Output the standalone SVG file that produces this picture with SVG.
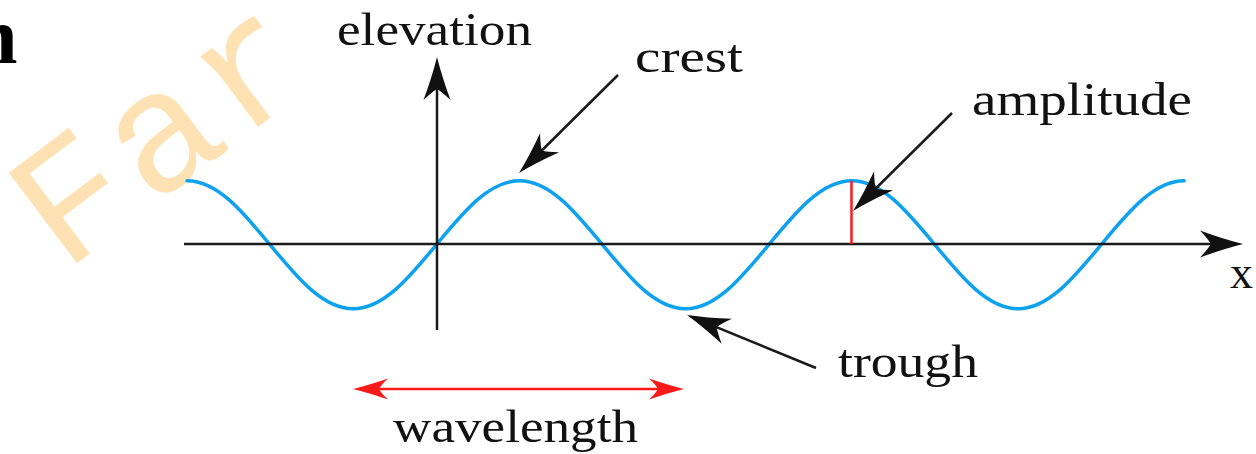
<svg xmlns="http://www.w3.org/2000/svg" width="1256" height="454" viewBox="0 0 1256 454">
<style>
  .lbl { font-family: "Liberation Serif", "Times New Roman", serif; font-size: 46px; fill: #111; }
  .axis { stroke: #1a1a1a; stroke-width: 2.5; fill: none; }
  .ptr { stroke: #1a1a1a; stroke-width: 2.5; fill: none; }
  .red { stroke: #ff1a1a; stroke-width: 2.5; fill: none; }
  .wave { stroke: #0ea2ee; stroke-width: 3.5; fill: none; stroke-linecap: round; }
  .wm { font-family: "Liberation Mono", "Courier New", monospace; font-size: 172px; letter-spacing: 6px; fill: #ffe2b4; }
</style>
<defs>
  <marker id="blackHead" markerUnits="userSpaceOnUse" markerWidth="60" markerHeight="60" refX="0" refY="0" viewBox="-40 -20 60 40" orient="auto" overflow="visible">
    <path d="M10,0 Q-10,-5 -33,-13.5 Q-25,-5 -22,0 Q-25,5 -33,13.5 Q-10,5 10,0 Z" fill="#111"/>
  </marker>
  <marker id="redHead" markerUnits="userSpaceOnUse" markerWidth="50" markerHeight="50" refX="0" refY="0" viewBox="-35 -15 50 30" orient="auto-start-reverse" overflow="visible">
    <path d="M8,0 Q-8,-4 -27,-10.5 Q-20,-4 -18,0 Q-20,4 -27,10.5 Q-8,4 8,0 Z" fill="#ff1a1a"/>
  </marker>
</defs>

<g id="watermark">
  <text class="wm" transform="translate(64,273) rotate(-37)">Far</text>
</g>

<g id="heading">
  <text x="-27" y="63" font-family="Liberation Serif, serif" font-weight="bold" font-size="80" fill="#000">n</text>
</g>

<g id="wave">
  <path class="wave" d="M187,180.8
    c30.2,0 55.32,30.4 83.1,64 c27.78,33.6 52.9,64 83.1,64 c30.2,0 55.32,-30.4 83.1,-64 c27.78,-33.6 52.9,-64 83.1,-64
    c30.2,0 55.32,30.4 83.1,64 c27.78,33.6 52.9,64 83.1,64 c30.2,0 55.32,-30.4 83.1,-64 c27.78,-33.6 52.9,-64 83.1,-64
    c30.2,0 55.32,30.4 83.1,64 c27.78,33.6 52.9,64 83.1,64 c30.2,0 55.32,-30.4 83.1,-64 c27.78,-33.6 52.9,-64 83.1,-64"/>
</g>

<g id="connectors">
  <line class="axis" x1="184" y1="244" x2="1233" y2="244" marker-end="url(#blackHead)"/>
  <line class="axis" x1="437" y1="330" x2="437" y2="67" marker-end="url(#blackHead)"/>
  <line class="ptr" x1="618" y1="75" x2="526.1" y2="166" marker-end="url(#blackHead)"/>
  <line class="ptr" x1="952" y1="113" x2="860.1" y2="204" marker-end="url(#blackHead)"/>
  <line class="ptr" x1="816" y1="368" x2="696.3" y2="318.8" marker-end="url(#blackHead)"/>
  <line class="red" x1="851.5" y1="181" x2="851.5" y2="244"/>
  <line class="red" x1="361" y1="389" x2="676" y2="389" marker-start="url(#redHead)" marker-end="url(#redHead)"/>
</g>

<g id="label-elevation"><text class="lbl" x="337" y="45" textLength="195" lengthAdjust="spacingAndGlyphs">elevation</text></g>
<g id="label-crest"><text class="lbl" x="635" y="72" textLength="108" lengthAdjust="spacingAndGlyphs">crest</text></g>
<g id="label-amplitude"><text class="lbl" x="972" y="115" textLength="220" lengthAdjust="spacingAndGlyphs">amplitude</text></g>
<g id="label-trough"><text class="lbl" x="838" y="377" textLength="140" lengthAdjust="spacingAndGlyphs">trough</text></g>
<g id="label-wavelength"><text class="lbl" x="393" y="442" textLength="245" lengthAdjust="spacingAndGlyphs">wavelength</text></g>
<g id="label-x"><text class="lbl" x="1230" y="288" textLength="23" lengthAdjust="spacingAndGlyphs">x</text></g>
</svg>
